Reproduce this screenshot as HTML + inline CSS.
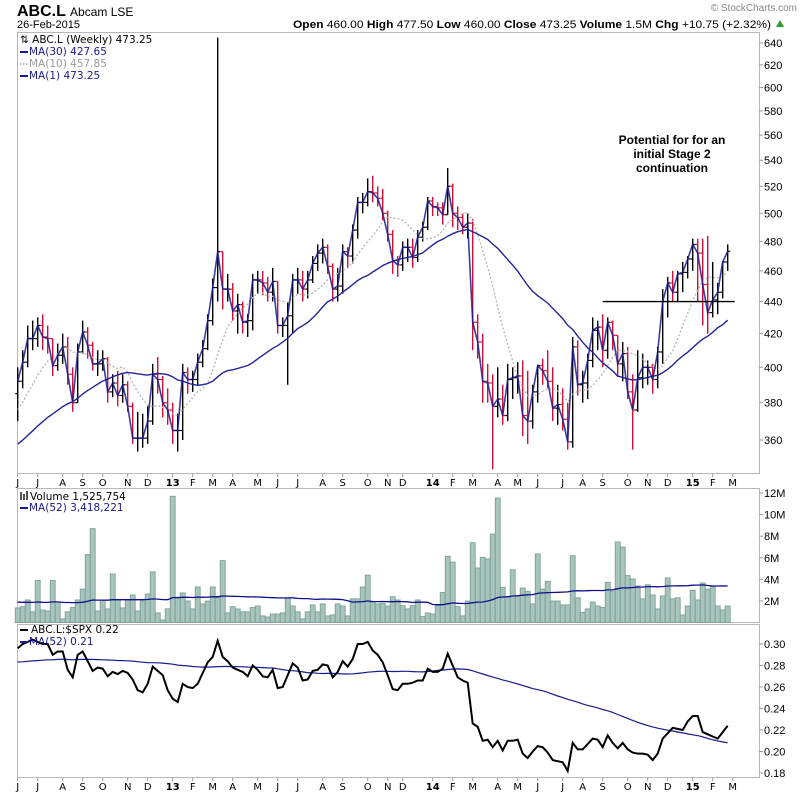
<!DOCTYPE html>
<html><head><meta charset="utf-8">
<style>
html,body{margin:0;padding:0;background:#fff;}
svg{display:block;font-family:"Liberation Sans","DejaVu Sans",sans-serif;}
.ax{font-family:"DejaVu Sans","Liberation Sans",sans-serif;font-size:10px;fill:#000;}
.lg{font-family:"DejaVu Sans","Liberation Sans",sans-serif;font-size:10.5px;}
</style></head>
<body>
<svg id="chart" width="800" height="795" viewBox="0 0 800 795" xmlns="http://www.w3.org/2000/svg">
  <text x="17" y="16" font-size="16" font-weight="bold">ABC.L <tspan font-weight="normal" font-size="12">Abcam LSE</tspan></text>
  <text x="17" y="28" font-size="11">26-Feb-2015</text>
  <text x="293" y="28" font-size="11" textLength="478" lengthAdjust="spacingAndGlyphs"><tspan font-weight="bold">Open</tspan> 460.00  <tspan font-weight="bold">High</tspan> 477.50  <tspan font-weight="bold">Low</tspan> 460.00  <tspan font-weight="bold">Close</tspan> 473.25  <tspan font-weight="bold">Volume</tspan> 1.5M  <tspan font-weight="bold">Chg</tspan> +10.75 (+2.32%)</text>
  <polygon points="776,27 784,27 780,20" fill="#2a9d2a"/>
  <text x="797" y="11" font-size="10" fill="#888" text-anchor="end">© StockCharts.com</text>

  <!-- panels -->
  <rect x="17.5" y="32.5" width="742" height="441" fill="none" stroke="#b8b8b8"/>
  <rect x="17.5" y="488.5" width="742" height="134" fill="none" stroke="#b8b8b8"/>
  <rect x="17.5" y="624.5" width="742" height="153" fill="none" stroke="#b8b8b8"/>

  <g id="price"></g>
  <g id="vol"></g>
  <g id="ratio"></g>
  <g id="axes"></g>

  <!-- legends -->
  <g class="lg">
    <text x="20" y="43" fill="#000">⇅ ABC.L (Weekly) 473.25</text>
    <line x1="20" y1="52" x2="28" y2="52" stroke="#1a1a8c" stroke-width="2"/>
    <text x="29" y="55" fill="#1a1a8c">MA(30) 427.65</text>
    <line x1="20" y1="64" x2="28" y2="64" stroke="#aaa" stroke-width="1.5" stroke-dasharray="1.5,1.5"/>
    <text x="29" y="67" fill="#999">MA(10) 457.85</text>
    <line x1="20" y1="76" x2="28" y2="76" stroke="#1a1a8c" stroke-width="2"/>
    <text x="29" y="79" fill="#1a1a8c">MA(1) 473.25</text>
  </g>
  <g class="lg">
    <rect x="20" y="492" width="2" height="8" fill="#555"/><rect x="23" y="494" width="2" height="6" fill="#555"/><rect x="26" y="491" width="2" height="9" fill="#555"/>
    <text x="30" y="500" fill="#000">Volume 1,525,754</text>
    <line x1="20" y1="508" x2="28" y2="508" stroke="#1a1a8c" stroke-width="2"/>
    <text x="29" y="511" fill="#1a1a8c">MA(52) 3,418,221</text>
  </g>
  <g class="lg">
    <line x1="20" y1="630" x2="28" y2="630" stroke="#000" stroke-width="2"/>
    <text x="31" y="633" fill="#000">ABC.L:$SPX 0.22</text>
    <line x1="20" y1="642" x2="28" y2="642" stroke="#1a1a8c" stroke-width="2"/>
    <text x="29" y="645" fill="#1a1a8c">MA(52) 0.21</text>
  </g>
  <g font-size="12" font-weight="bold" text-anchor="middle">
    <text x="672" y="144">Potential for for an</text>
    <text x="672" y="158">initial Stage 2</text>
    <text x="672" y="172">continuation</text>
  </g>
</svg>
<script>
// ---- data ----
const closes=[392,403,417,417,425,418,417,401,407,412,396,380,409,421,413,402,402,405,386,391,384,390,378,361,361,361,370,396,393,380,376,365,365,397,393,393,403,411,428,449,473,448,448,434,438,427,428,454,454,452,446,453,425,425,431,454,454,448,454,465,472,476,463,448,450,473,470,488,508,508,516,515,511,500,485,467,464,476,476,469,483,490,509,505,504,499,520,500,497,490,493,427,415,392,391,378,382,373,393,394,395,373,370,386,401,398,392,377,379,371,359,412,390,391,404,422,424,410,427,419,402,408,386,376,394,400,400,393,409,440,452,446,458,459,468,478,472,451,433,441,446,466,473.25];
const highs=[400,410,425,428,430,432,425,415,414,420,418,400,414,428,424,415,410,410,406,396,398,396,392,380,375,374,378,402,406,395,388,380,374,402,400,398,408,416,432,455,645,462,458,452,445,440,432,458,460,460,456,462,452,430,440,458,462,460,460,470,478,482,478,465,462,478,476,492,512,515,526,528,520,518,502,488,470,480,482,482,488,494,512,512,508,508,534,522,505,500,500,496,432,420,402,396,400,390,402,400,403,404,398,390,397,405,410,400,390,388,380,418,416,398,408,430,428,432,430,428,418,415,412,396,410,408,404,402,412,448,456,460,460,466,470,482,482,482,484,466,452,458,478];
const lows=[370,388,400,410,412,410,408,395,398,402,390,375,380,408,405,398,395,398,380,383,378,380,375,358,354,356,358,368,385,372,368,358,354,360,385,386,390,400,410,425,440,435,440,428,420,420,418,422,445,444,440,440,420,418,390,420,445,440,442,452,460,465,458,440,440,445,462,465,482,500,505,508,505,495,480,458,456,460,466,462,466,480,488,498,498,492,500,490,488,485,482,410,405,380,380,345,372,368,370,382,385,362,358,366,380,390,388,370,368,365,355,356,384,380,382,400,410,400,405,410,395,392,382,355,375,388,390,385,388,402,430,440,440,446,455,460,440,425,420,430,432,442,460];
const priorCloses=[340,342,345,348,350,347,345,348,352,350,346,349,351,353,350,348,352,355,350,352,362,366,370,372,375,378,380,382,385];
const volumes=[1.36,1.48,2.1,1.0,3.9,1.17,1.08,3.9,1.9,0.34,1.0,1.4,2.1,3.1,6.3,8.7,1.08,2.1,1.27,4.5,2.1,1.36,2.1,2.56,1.08,2.0,2.65,4.7,0.9,0.25,1.27,11.7,2.35,2.75,2.0,1.27,3.3,1.73,2.0,3.3,2.3,5.74,0.9,1.48,1.27,1.0,1.0,1.4,1.54,0.62,0.52,0.8,0.8,0.9,2.3,1.54,1.0,0.34,1.0,1.64,1.0,1.73,0.62,0.71,1.73,1.54,0.62,2.2,2.2,3.3,4.4,1.9,1.73,1.8,1.54,2.4,2.1,1.57,1.27,1.57,2.1,0.56,0.9,0.8,1.57,2.8,6.14,5.6,1.48,0.62,2.0,7.4,5.06,6.05,5.9,8.2,11.54,3.27,2.35,4.9,2.5,3.2,2.9,1.73,6.36,3.1,3.83,2.0,2.0,1.64,1.64,6.2,2.3,0.96,1.27,1.9,1.54,1.4,3.73,2.87,7.47,7.0,4.35,4.04,3.4,2.2,3.5,2.56,1.27,2.47,4.14,2.2,2.3,0.71,1.54,3.0,2.1,3.67,3.1,3.36,1.54,1.17,1.54];
const priorVolumes=[1.8,2.2,1.5,1.9,2.4,1.6,1.7,2.0,2.5,1.4,1.9,2.1,1.6,1.8,2.3,1.5,2.0,1.7,2.2,1.9,1.6,2.4,1.8,1.5,2.1,1.9,1.7,2.0,2.6,1.4,1.8,2.2,1.6,1.9,2.0,1.7,2.3,1.5,1.8,2.1,1.9,1.6,2.2,1.8,2.0,1.7,1.9,2.4,1.5,1.8,2.0];
const ratios=[0.296,0.300,0.302,0.304,0.302,0.300,0.300,0.290,0.293,0.293,0.276,0.269,0.290,0.293,0.284,0.275,0.278,0.277,0.270,0.274,0.272,0.275,0.273,0.267,0.257,0.255,0.263,0.279,0.275,0.271,0.257,0.249,0.246,0.263,0.260,0.259,0.263,0.273,0.283,0.288,0.303,0.288,0.284,0.278,0.276,0.274,0.270,0.280,0.276,0.270,0.269,0.276,0.259,0.260,0.271,0.282,0.278,0.266,0.267,0.275,0.276,0.281,0.280,0.269,0.274,0.284,0.279,0.286,0.300,0.300,0.302,0.294,0.290,0.283,0.271,0.258,0.257,0.263,0.263,0.264,0.266,0.266,0.277,0.274,0.274,0.277,0.291,0.280,0.269,0.266,0.264,0.226,0.223,0.210,0.211,0.204,0.210,0.201,0.210,0.210,0.211,0.198,0.194,0.200,0.205,0.204,0.199,0.192,0.191,0.190,0.182,0.208,0.202,0.202,0.207,0.212,0.211,0.204,0.215,0.208,0.203,0.208,0.202,0.199,0.198,0.198,0.197,0.192,0.198,0.212,0.217,0.222,0.221,0.220,0.228,0.233,0.233,0.218,0.216,0.214,0.212,0.218,0.224];
const priorRatios=[0.286,0.280,0.284,0.290,0.278,0.282,0.288,0.276,0.284,0.290,0.281,0.279,0.286,0.283,0.277,0.285,0.289,0.280,0.282,0.287,0.279,0.284,0.281,0.288,0.276,0.283,0.286,0.280,0.285,0.282,0.278,0.287,0.283,0.281,0.286,0.279,0.284,0.282,0.288,0.280,0.283,0.285,0.279,0.284,0.281,0.286,0.282,0.280,0.285,0.283,0.284];
const priceTicks=[360,380,400,420,440,460,480,500,520,540,560,580,600,620,640];
const volTicks=[2,4,6,8,10,12];
const volTickLabels=["2M","4M","6M","8M","10M","12M"];
const ratioTicks=[0.18,0.20,0.22,0.24,0.26,0.28,0.30];
const monthLabels=["J","J","A","S","O","N","D","13","F","M","A","M","J","J","A","S","O","N","D","14","F","M","A","M","J","J","A","S","O","N","D","15","F","M"];
const monthWeeks=[0,4,9,13,17,22,26,31,35,39,43,48,52,56,61,65,70,74,77,83,87,91,96,100,104,109,113,117,122,126,130,135,139,143];
const resistanceLevel=440, resistanceFrom=117, resistanceTo=143;

// ---- scales ----
const NS="http://www.w3.org/2000/svg";
const xOf=i=>17.7+5*i;
const yP=p=>43+690*Math.log(640/p);
const yV=v=>622.6-v*10.8;
const yR=r=>644+(0.30-r)*1075;
function mk(tag,attrs,parent){const e=document.createElementNS(NS,tag);for(const k in attrs)e.setAttribute(k,attrs[k]);parent.appendChild(e);return e;}
function ma(series,prior,n){const all=prior.concat(series);const out=[];for(let i=0;i<series.length;i++){const j=i+prior.length;const s=Math.max(0,j-n+1);let t=0;for(let k=s;k<=j;k++)t+=all[k];out.push(t/(j-s+1));}return out;}
const gP=document.getElementById('price'),gV=document.getElementById('vol'),gR=document.getElementById('ratio'),gA=document.getElementById('axes');

// price bars
closes.forEach((c,i)=>{
  const o=i>0?closes[i-1]:(priorCloses[priorCloses.length-1]);
  const col=(i>0&&c<closes[i-1])?'#d0103a':'#000';
  const x=xOf(i);
  const g=mk('g',{},gP);
  
  
  const h=highs[i]!==undefined?highs[i]:Math.max(c,o), l=lows[i]!==undefined?lows[i]:Math.min(c,o);
  mk('line',{x1:x,x2:x,y1:yP(Math.max(h,c,o)),y2:yP(Math.min(l,c,o)),stroke:col,'stroke-width':1.4},g);
  mk('line',{x1:x-2.5,x2:x,y1:yP(o),y2:yP(o),stroke:col,'stroke-width':1.2},g);
  mk('line',{x1:x,x2:x+2.5,y1:yP(c),y2:yP(c),stroke:col,'stroke-width':1.2},g);
});
const ma10=ma(closes,priorCloses,10), ma30=ma(closes,priorCloses,30);
function path(vals,yf,attrs,name,parent){const d=vals.map((v,i)=>(i?'L':'M')+xOf(i).toFixed(1)+','+yf(v).toFixed(1)).join('');const p=mk('path',Object.assign({d:d,fill:'none'},attrs),parent);return p;}
path(ma10,yP,{stroke:'#b4b4b4','stroke-width':1.3,'stroke-dasharray':'2,2'},'ma10-line',gP);
path(ma30,yP,{stroke:'#232398','stroke-width':1.4},'ma30-line',gP);
path(closes,yP,{stroke:'#1a1a8c','stroke-width':1.6,'stroke-opacity':0.85},'ma1-close-line',gP);
const rl=mk('line',{x1:xOf(resistanceFrom),x2:xOf(resistanceTo)+2,y1:yP(resistanceLevel),y2:yP(resistanceLevel),stroke:'#000','stroke-width':1.3},gP);



// volume
volumes.forEach((v,i)=>{
  const r=mk('rect',{x:xOf(i)-2.5,y:yV(v),width:5,height:622.6-yV(v),fill:'#a7c5bc',stroke:'#789a90','stroke-width':0.8},gV);
  
  
});
path(ma(volumes,priorVolumes,52),yV,{stroke:'#10108a','stroke-width':1.3},'volume-ma52-line',gV);

// ratio
path(ma(ratios,priorRatios,52),yR,{stroke:'#1a1a8c','stroke-width':1.2},'ratio-ma52-line',gR);
path(ratios,yR,{stroke:'#000','stroke-width':2},'ratio-line',gR);

// axes labels
function txt(s,x,y,attrs,name){const t=mk('text',Object.assign({x:x,y:y},attrs),gA);t.textContent=s;return t;}
priceTicks.forEach(p=>{const y=yP(p);mk('line',{x1:759,x2:763,y1:y,y2:y,stroke:'#999'},gA);txt(String(p),764,y+4,{'font-size':11},'price-tick-label');});
volTicks.forEach((v,k)=>{const y=yV(v);mk('line',{x1:759,x2:763,y1:y,y2:y,stroke:'#999'},gA);txt(volTickLabels[k],764,y+4,{'font-size':11},'volume-tick-label');});
ratioTicks.forEach(r=>{const y=yR(r);mk('line',{x1:759,x2:763,y1:y,y2:y,stroke:'#999'},gA);txt(r.toFixed(2),764,y+4,{'font-size':11},'ratio-tick-label');});
monthLabels.forEach((m,k)=>{
  const x=xOf(monthWeeks[k]);const bold=/\d/.test(m);
  [482,786].forEach(y=>{txt(m,x,y+4,{'text-anchor':'middle','font-size':bold?12:10.5,'font-weight':bold?'bold':'normal',class:'ax'},'month-label');});
  mk('line',{x1:x,x2:x,y1:474,y2:477,stroke:'#999'},gA);
  mk('line',{x1:x,x2:x,y1:778,y2:781,stroke:'#999'},gA);
});
</script>
</body></html>
